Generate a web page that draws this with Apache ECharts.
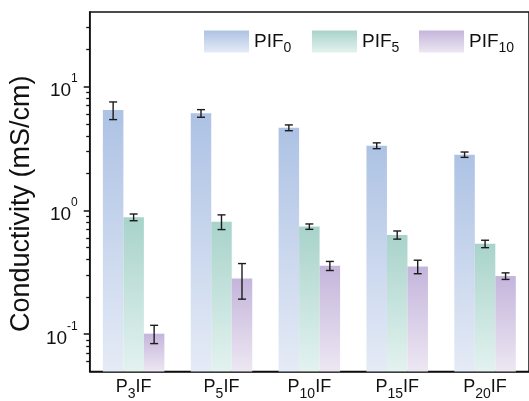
<!DOCTYPE html>
<html>
<head>
<meta charset="utf-8">
<script src="https://cdn.jsdelivr.net/npm/echarts@6/dist/echarts.min.js"></script>
<style>
  html, body { margin: 0; padding: 0; background: #ffffff; }
  #chart { width: 529px; height: 401px; }
</style>
</head>
<body>
<div id="chart"></div>
<script>
// Sample groups along the category axis
const categories = ['P3IF', 'P5IF', 'P10IF', 'P15IF', 'P20IF'];
const seriesNames = ['PIF0', 'PIF5', 'PIF10'];

// Conductivity means (mS/cm) and their error half-widths
const pif0 = [6.46, 6.08, 4.65, 3.33, 2.82];
const err0 = [1.05, 0.43, 0.25, 0.18, 0.14];
const pif5 = [0.88, 0.81, 0.74, 0.634, 0.537];
const err5 = [0.055, 0.11, 0.037, 0.048, 0.037];
const pif10 = [0.101, 0.282, 0.357, 0.352, 0.295];
const err10 = [0.017, 0.09, 0.03, 0.044, 0.018];

// Log-axis range and tick positions
const yRange = [0.05, 40];
const yMajorTicks = [0.1, 1, 10];
const yMinorTicks = [0.06, 0.07, 0.08, 0.09, 0.2, 0.3, 0.4, 0.5, 0.6, 0.7, 0.8, 0.9,
                     2, 3, 4, 5, 6, 7, 8, 9, 20, 30];

const means = [pif0, pif5, pif10];
const errs = [err0, err5, err10];
const palette = [
  ['#adc2e4', '#e5ebf6'],
  ['#a8d3ca', '#e3f2ef'],
  ['#c4b5db', '#ede7f3']
];
const FONT = 'Liberation Sans, Arial, sans-serif';
const CATEGORY_GAP = 0.3;

function gradient(pair) {
  return new echarts.graphic.LinearGradient(0, 0, 0, 1, [
    { offset: 0, color: pair[0] },
    { offset: 1, color: pair[1] }
  ]);
}

// "PIF10" -> PIF with subscript 10
function subscriptName(name) {
  const m = /^PIF(\d+)$/.exec(name);
  return '{m|PIF}{s|' + m[1] + '}';
}
function subscriptCategory(name) {
  const m = /^P(\d+)IF$/.exec(name);
  return '{m|P}{s|' + m[1] + '}{m|IF}';
}

// Main text plus a lowered, smaller subscript
function subRich(mainSize, subSize) {
  return {
    m: { fontSize: mainSize, fontFamily: FONT, color: '#111', lineHeight: mainSize + 4 },
    s: { fontSize: subSize, fontFamily: FONT, color: '#111', lineHeight: subSize, padding: [13, 0, 0, 0] }
  };
}

// Horizontal placement of bar g inside a category band
function barGeometry(api, i, g) {
  const band = api.size([1, 1])[0];
  const n = seriesNames.length;
  const barW = band * (1 - CATEGORY_GAP) / n;
  const center = api.coord([i, 1])[0];
  return { cx: center + (g - (n - 1) / 2) * barW, w: barW };
}

// Bars rise from the bottom of the log axis
const barSeries = seriesNames.map((name, g) => ({
  name: name,
  type: 'custom',
  encode: { x: 0, y: 1 },
  itemStyle: { color: gradient(palette[g]) },
  data: means[g].map((v, i) => [i, v]),
  z: 2,
  renderItem: function (params, api) {
    const i = api.value(0);
    const v = api.value(1);
    const geo = barGeometry(api, i, g);
    const top = api.coord([i, v])[1];
    const bottom = api.coord([i, yRange[0]])[1];
    return {
      type: 'rect',
      shape: { x: geo.cx - geo.w / 2, y: top, width: geo.w, height: bottom - top },
      style: { fill: gradient(palette[g]) }
    };
  }
}));

const errorData = [];
seriesNames.forEach((name, g) => {
  means[g].forEach((v, i) => {
    errorData.push([i, v - errs[g][i], v + errs[g][i], g]);
  });
});

const errorSeries = {
  type: 'custom',
  name: 'error',
  encode: { x: 0, y: [1, 2] },
  data: errorData,
  z: 5,
  silent: true,
  renderItem: function (params, api) {
    const i = api.value(0);
    const lo = api.value(1);
    const hi = api.value(2);
    const g = api.value(3);
    const geo = barGeometry(api, i, g);
    const yHi = api.coord([i, hi])[1];
    const yLo = api.coord([i, lo])[1];
    const cx = geo.cx;
    const cap = 4;
    const style = { stroke: '#1c1c1c', lineWidth: 1.4 };
    return {
      type: 'group',
      children: [
        { type: 'line', shape: { x1: cx, y1: yHi, x2: cx, y2: yLo }, style: style },
        { type: 'line', shape: { x1: cx - cap, y1: yHi, x2: cx + cap, y2: yHi }, style: style },
        { type: 'line', shape: { x1: cx - cap, y1: yLo, x2: cx + cap, y2: yLo }, style: style }
      ]
    };
  }
};

const legendLefts = [204, 312, 419];
const legends = seriesNames.map((name, g) => ({
  data: [name],
  left: legendLefts[g],
  top: 28,
  icon: 'rect',
  itemWidth: 45,
  itemHeight: 22,
  padding: 0,
  selectedMode: false,
  formatter: subscriptName,
  textStyle: { rich: subRich(19, 14) }
}));

const chart = echarts.init(document.getElementById('chart'), null, { renderer: 'canvas' });
chart.setOption({
  animation: false,
  backgroundColor: '#ffffff',
  legend: legends,
  grid: {
    left: 89, top: 12, width: 446, height: 360,
    show: true, borderColor: '#111', borderWidth: 1.5, backgroundColor: 'transparent'
  },
  xAxis: {
    type: 'category',
    data: categories,
    axisLine: { onZero: false, lineStyle: { color: '#111', width: 1.5 } },
    axisTick: { alignWithLabel: true, length: 4, lineStyle: { color: '#111', width: 1.5 } },
    axisLabel: {
      margin: 5,
      interval: 0,
      formatter: subscriptCategory,
      rich: subRich(18, 14)
    },
    splitLine: { show: false }
  },
  yAxis: [
    {
      type: 'log',
      logBase: 10,
      min: yRange[0],
      max: yRange[1],
      position: 'left',
      name: 'Conductivity (mS/cm)',
      nameLocation: 'middle',
      nameGap: 47,
      nameTextStyle: { fontSize: 27, fontFamily: FONT, color: '#111', padding: [0, 24, 0, 0] },
      axisLine: { show: true, onZero: false, lineStyle: { color: '#111', width: 1.5 } },
      axisTick: { show: true, customValues: yMajorTicks, length: 6, lineStyle: { color: '#111', width: 1.5 } },
      axisLabel: {
        customValues: yMajorTicks,
        margin: 12,
        formatter: function (v) {
          const e = Math.round(Math.log10(v));
          return '{b|10}{e|' + e + '}';
        },
        rich: {
          b: { fontSize: 19, fontFamily: FONT, color: '#111', lineHeight: 28, verticalAlign: 'bottom' },
          e: { fontSize: 12, fontFamily: FONT, color: '#111', lineHeight: 14, verticalAlign: 'top' }
        }
      },
      splitLine: { show: false }
    },
    {
      type: 'log',
      logBase: 10,
      min: yRange[0],
      max: yRange[1],
      position: 'left',
      axisLine: { show: false },
      axisTick: { show: true, customValues: yMinorTicks, length: 3.5, lineStyle: { color: '#111', width: 1.3 } },
      axisLabel: { show: false },
      splitLine: { show: false }
    }
  ],
  series: barSeries.concat([errorSeries])
});
</script>
</body>
</html>
